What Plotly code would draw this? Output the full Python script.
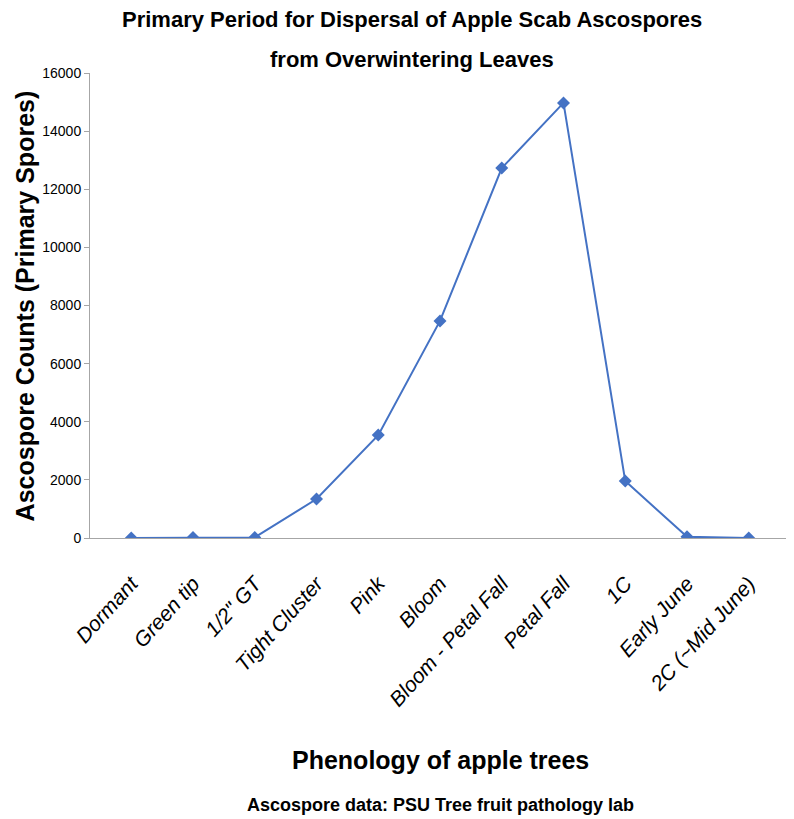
import plotly.graph_objects as go

stages = ["Dormant", "Green tip", "1/2\" GT", "Tight Cluster", "Pink", "Bloom",
          "Bloom - Petal Fall", "Petal Fall", "1C", "Early June", "2C (~Mid June)"]
spores = [0, 20, 20, 1340, 3540, 7470, 12730, 14970, 1960, 40, 0]
y_ticks = [0, 2000, 4000, 6000, 8000, 10000, 12000, 14000, 16000]

FONT = "Liberation Sans, Arial, sans-serif"
BLUE = "#4472C4"

fig = go.Figure()
fig.add_trace(go.Scatter(
    x=stages, y=spores, mode="lines+markers",
    line=dict(color=BLUE, width=2),
    marker=dict(symbol="diamond", size=10, color=BLUE),
    showlegend=False,
))

fig.update_layout(
    width=786, height=811, autosize=False,
    margin=dict(l=82, r=4, t=65, b=281),
    paper_bgcolor="white", plot_bgcolor="white",
    font=dict(family=FONT, color="black"),
    xaxis=dict(
        type="category", showgrid=False, zeroline=False,
        showline=True, linecolor="#A6A6A6", linewidth=1,
        ticks="", tickangle=-48, ticklabelstandoff=24,
        tickfont=dict(family=FONT, size=21, style="italic", color="black"),
    ),
    yaxis=dict(
        range=[0, 16000], tickvals=y_ticks, tickformat="d",
        showgrid=False, zeroline=False,
        showline=True, linecolor="#A6A6A6", linewidth=1,
        ticks="outside", ticklen=5, tickcolor="#A6A6A6",
        tickfont=dict(family=FONT, size=14, color="black"),
    ),
    annotations=[
        dict(text="<b>Primary Period for Dispersal of Apple Scab Ascospores</b>",
             xref="paper", yref="paper", x=0.46, y=1.114, showarrow=False,
             xanchor="center", yanchor="middle", font=dict(family=FONT, size=22)),
        dict(text="<b>from Overwintering Leaves</b>",
             xref="paper", yref="paper", x=0.46, y=1.028, showarrow=False,
             xanchor="center", yanchor="middle", font=dict(family=FONT, size=22)),
        dict(text="<b>Ascospore Counts (Primary Spores)</b>",
             xref="paper", yref="paper", x=-0.093, y=0.5, showarrow=False,
             textangle=-90, xanchor="center", yanchor="middle",
             font=dict(family=FONT, size=25)),
        dict(text="<b>Phenology of apple trees</b>",
             xref="paper", yref="paper", x=0.50, y=-0.477, showarrow=False,
             xanchor="center", yanchor="middle", font=dict(family=FONT, size=25)),
        dict(text="<b>Ascospore data: PSU Tree fruit pathology lab</b>",
             xref="paper", yref="paper", x=0.5, y=-0.574, showarrow=False,
             xanchor="center", yanchor="middle", font=dict(family=FONT, size=18)),
    ],
)

fig.write_html("out.html")
